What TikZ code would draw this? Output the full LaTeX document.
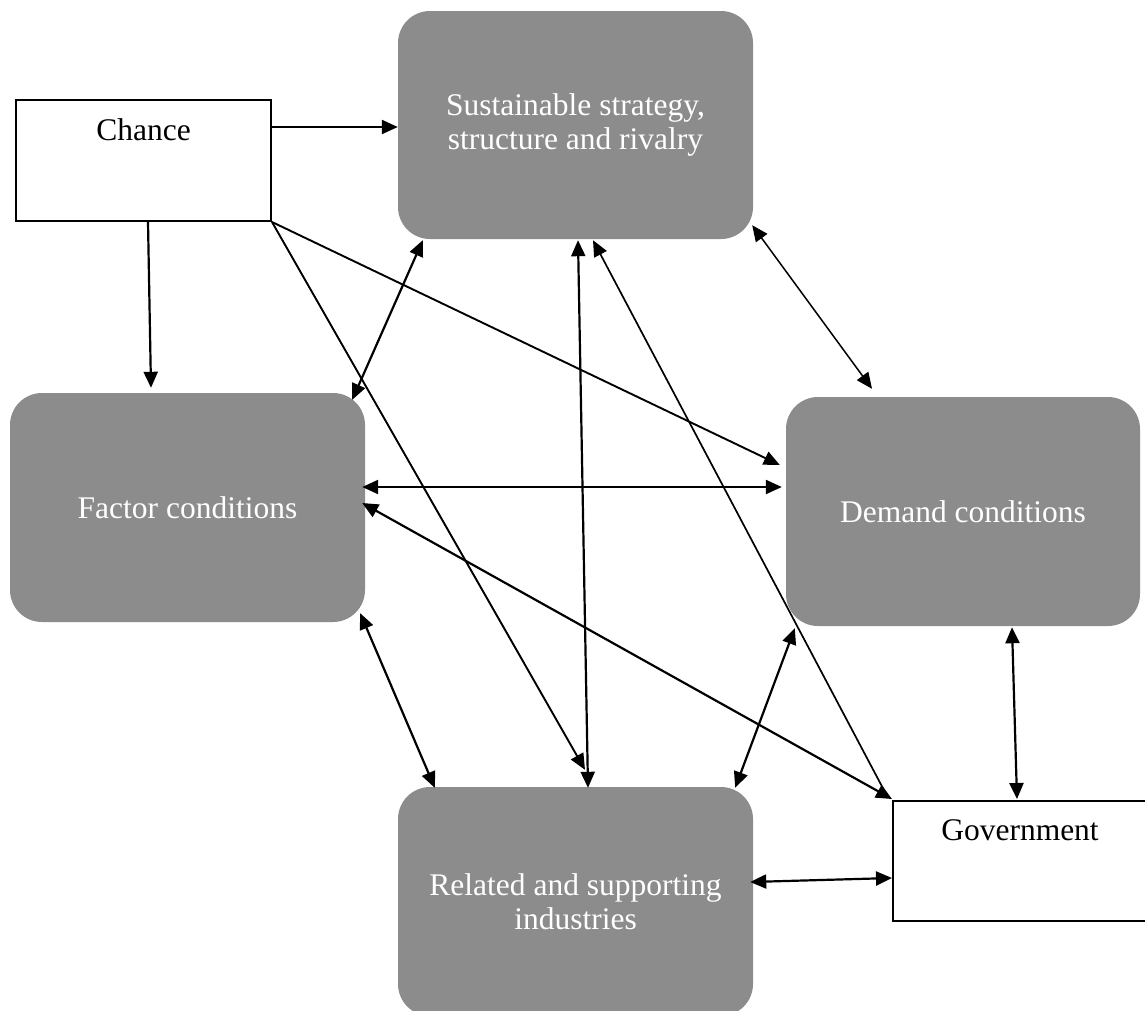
\documentclass[tikz,border=0pt]{standalone}
\usepackage{fontspec}
\setmainfont{Liberation Serif}
\usetikzlibrary{arrows.meta,calc}
\definecolor{boxgray}{HTML}{8C8C8C}
\begin{document}
\begin{tikzpicture}[x=1pt,y=-1pt,
  force/.style={fill=boxgray, rounded corners=32pt, text=white, align=center,
    font=\fontsize{31.5}{34}\selectfont, inner sep=0pt},
  plainbox/.style={draw=black, line width=2pt, fill=white, inner sep=0pt},
  lbl/.style={font=\fontsize{31.5}{34}\selectfont, inner sep=0pt},
  tip/.tip={Triangle[length=16pt,width=14pt]},
  arr/.style={line width=2.2pt, -tip},
  dbl/.style={line width=2.2pt, tip-tip},
]
\clip (0,0) rectangle (1145,1010);
\fill[white] (0,0) rectangle (1145,1010);

% the four determinants
\node[force, minimum width=355pt, minimum height=228pt] (sus) at (575.5,125)
  {Sustainable strategy,\\structure and rivalry};
\node[force, minimum width=355pt, minimum height=229pt] (fac) at (187.5,507.5)
  {Factor conditions};
\node[force, minimum width=354pt, minimum height=229pt] (dem) at (963,511.5)
  {Demand conditions};
\node[force, minimum width=355pt, minimum height=229pt] (rel) at (575.5,901.5)
  {Related and supporting\\industries};

% the two outside influences
\node[plainbox, minimum width=255pt, minimum height=121pt] (chance) at (143.5,160.5) {};
\node[lbl] (chancetxt) at ($(chance.north)+(0,31)$) {Chance};
\node[plainbox, minimum width=254pt, minimum height=120pt] (gov) at (1020,861) {};
\node[lbl] (govtxt) at ($(gov.north)+(0,30)$) {Government};

% influence of chance
\draw[arr] ($(chance.east)+(0,-33.5)$) -- ($(sus.west)+(0,2)$);
\draw[arr] ($(chance.south)+(4.5,0)$) -- ($(fac.north)+(-36.5,-5)$);
\draw[arr, line width=1.9pt] (chance.south east) -- ($(dem.west)+(-6,-46.5)$);
\draw[arr, line width=1.9pt] (chance.south east) -- ($(rel.north)+(9.5,-17)$);

% links between the determinants
\draw[dbl] ($(fac.north east)+(-13,7)$) -- ($(sus.south west)+(25,1)$);
\draw[dbl] ($(sus.south)+(2.5,1)$) -- ($(rel.north)+(12.5,1)$);
\draw[dbl, line width=1.5pt] ($(sus.south east)+(-1,-14)$) -- ($(dem.north)+(-91,-8)$);
\draw[dbl] ($(fac.east)+(-3,-20.5)$) -- ($(dem.west)+(-4,-24.5)$);
\draw[dbl] ($(fac.south east)+(-5,-9)$) -- ($(rel.north west)+(37,1)$);
\draw[dbl] ($(dem.south west)+(9,2)$) -- ($(rel.north east)+(-18,1)$);

% influence of government
\draw[arr, line width=1.7pt] ($(gov.north west)+(-6,-6)$) -- ($(sus.south)+(17.5,1)$);
\draw[dbl] ($(fac.east)+(-3,-4.5)$) -- ($(gov.north west)+(0,-1)$);
\draw[dbl] ($(dem.south)+(49,1)$) -- ($(gov.north)+(-3,-1)$);
\draw[dbl] ($(rel.east)+(-3,-19.5)$) -- ($(gov.west)+(0,17)$);
\end{tikzpicture}
\end{document}
